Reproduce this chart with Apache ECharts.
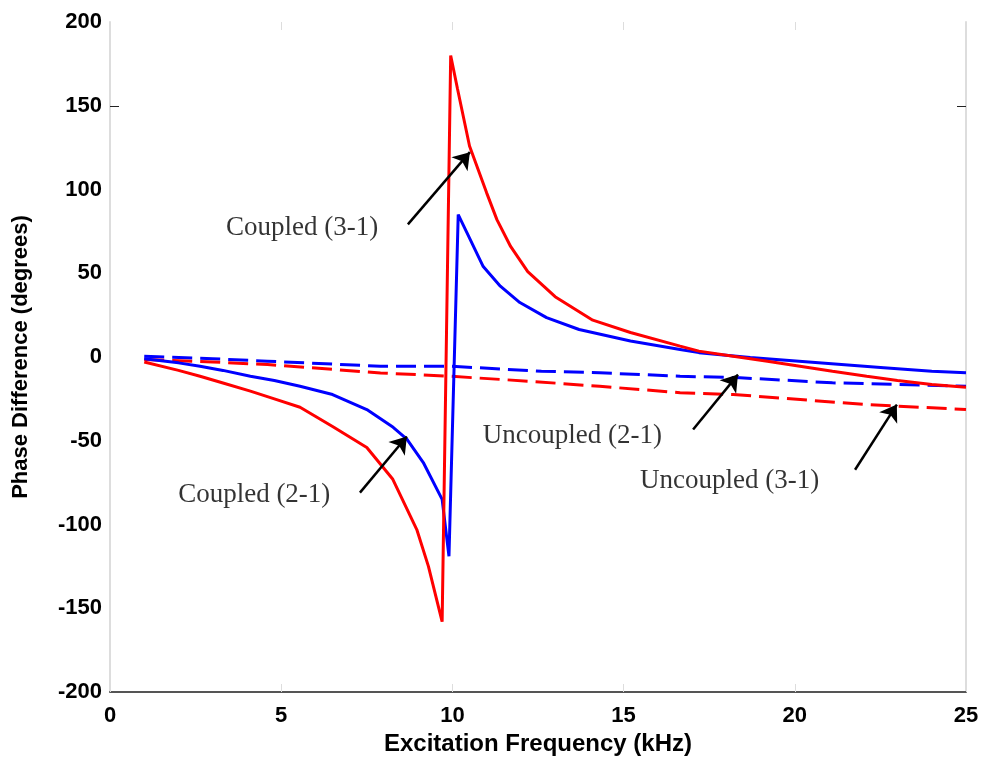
<!DOCTYPE html>
<html>
<head>
<meta charset="utf-8">
<script src="https://cdn.jsdelivr.net/npm/echarts@6/dist/echarts.min.js"></script>
<style>
  html, body { margin: 0; padding: 0; background: #ffffff; }
  #chart { width: 984px; height: 765px; }
</style>
</head>
<body>
<div id="chart"></div>
<script>
// Phase difference between sensor pairs versus excitation frequency

// Coupled (3-1)
const freqCoupled31 = [1, 2, 2.63, 3.3, 4.1, 4.8, 5.55, 6.5, 7.5, 8.26, 8.96, 9.3, 9.7, 9.95, 10.15, 10.5, 11.0, 11.3, 11.7, 12.2, 13.0, 14.1, 15.2, 16.65, 17.2, 18.2, 19.2, 20.15, 21.1, 22.1, 23.0, 24.0, 25.0];
const phaseCoupled31 = [-3, -8, -11.5, -15.5, -20.4, -25, -30, -41.5, -54, -73, -103, -125, -158, 180, 160, 126, 98, 82, 66, 51, 36, 22, 14.6, 6.5, 3.5, 0.5, -2.5, -5.5, -8.5, -11.5, -14, -16.4, -18];

// Coupled (2-1)
const freqCoupled21 = [1, 2, 2.63, 3.3, 4.1, 4.8, 5.55, 6.5, 7.5, 8.27, 8.67, 9.15, 9.7, 9.9, 10.17, 10.42, 10.9, 11.4, 11.97, 12.75, 13.7, 15.2, 16.65, 17.2, 18.7, 20.6, 22.6, 24.0, 25.0];
const phaseCoupled21 = [-1, -3.5, -5.5, -8, -11.5, -14, -17.5, -22.4, -31.4, -42, -49, -63, -85, -119, 85, 74.4, 54, 42.3, 32.5, 23.5, 16.4, 9.5, 4.5, 2.6, -0.3, -3.3, -6.4, -8.5, -9.4];

// Uncoupled (2-1)
const freqUncoupled21 = [1, 3, 4.6, 7.9, 9.93, 12.6, 14.3, 16.65, 18.4, 21.1, 25];
const phaseUncoupled21 = [0.5, -1, -2.5, -5.5, -5.5, -8.5, -9.4, -11.5, -12.4, -15.4, -17.5];

// Uncoupled (3-1)
const freqUncoupled31 = [1, 3, 4.6, 7.9, 9.93, 12.27, 14.3, 16.65, 18.2, 22.1, 25];
const phaseUncoupled31 = [-1.5, -3, -4.5, -9.5, -11.5, -14.5, -17.5, -21.3, -22.4, -28.4, -31.4];

// Axis ticks
const xTicks = [0, 5, 10, 15, 20, 25];
const yTicks = [-200, -150, -100, -50, 0, 50, 100, 150, 200];

// Callout texts: [label, x, y] (left edge of text, vertical middle)
const calloutLabels = ['Coupled (3-1)', 'Coupled (2-1)', 'Uncoupled (2-1)', 'Uncoupled (3-1)'];
const calloutX = [3.39, 1.99, 10.89, 15.48];
const calloutY = [76.8, -82.2, -46.9, -73.8];

// Callout arrows: tail -> head, in data units
const arrowTailX = [8.70, 7.30, 17.03, 21.76];
const arrowTailY = [79.2, -81.0, -43.3, -67.3];
const arrowHeadX = [10.51, 8.67, 18.34, 22.98];
const arrowHeadY = [122.3, -47.5, -10.5, -28.4];

const zip = (xs, ys) => xs.map((x, i) => [x, ys[i]]);

const tickFont = { fontFamily: 'Liberation Sans', fontWeight: 'bold', fontSize: 22, color: '#000' };

const chart = echarts.init(document.getElementById('chart'), null, { renderer: 'canvas' });

const lineSeries = (name, xs, ys, color, dashed) => ({
  name: name,
  type: 'line',
  data: zip(xs, ys),
  showSymbol: false,
  symbol: 'none',
  smooth: false,
  silent: true,
  animation: false,
  lineStyle: { color: color, width: 3, type: dashed ? [20, 8] : 'solid' },
  z: dashed ? 2 : 3
});

chart.setOption({
  backgroundColor: '#ffffff',
  animation: false,
  grid: { left: 110, right: 18, top: 22, bottom: 73, containLabel: false },
  xAxis: [
    {
      type: 'value', min: xTicks[0], max: xTicks[xTicks.length - 1], interval: 5,
      position: 'bottom',
      name: 'Excitation Frequency (kHz)',
      nameLocation: 'middle', nameGap: 36,
      nameTextStyle: { fontFamily: 'Liberation Sans', fontWeight: 'bold', fontSize: 24, color: '#000' },
      axisLine: { show: true, onZero: false, lineStyle: { color: '#555', width: 2 } },
      axisTick: { show: true, inside: true, length: 8, lineStyle: { color: '#dddddd', width: 1 } },
      axisLabel: Object.assign({ margin: 13 }, tickFont),
      splitLine: { show: false }
    },
    {
      type: 'value', min: xTicks[0], max: xTicks[xTicks.length - 1], interval: 5,
      position: 'top',
      axisLine: { show: false, onZero: false },
      axisTick: { show: true, inside: true, length: 8, lineStyle: { color: '#dddddd', width: 1 } },
      axisLabel: { show: false },
      splitLine: { show: false }
    }
  ],
  yAxis: [
    {
      type: 'value', min: yTicks[0], max: yTicks[yTicks.length - 1], interval: 50,
      position: 'left',
      name: 'Phase Difference (degrees)',
      nameLocation: 'middle', nameGap: 78, nameRotate: 90,
      nameTextStyle: { fontFamily: 'Liberation Sans', fontWeight: 'bold', fontSize: 22, color: '#000' },
      axisLine: { show: true, onZero: false, lineStyle: { color: '#dddddd', width: 2 } },
      axisTick: { show: true, inside: true, length: 9, customValues: [150], lineStyle: { color: '#222', width: 1 } },
      axisLabel: Object.assign({ margin: 8 }, tickFont),
      splitLine: { show: false }
    },
    {
      type: 'value', min: yTicks[0], max: yTicks[yTicks.length - 1], interval: 50,
      position: 'right',
      axisLine: { show: true, onZero: false, lineStyle: { color: '#dddddd', width: 2 } },
      axisTick: { show: true, inside: true, length: 9, customValues: [150], lineStyle: { color: '#222', width: 1 } },
      axisLabel: { show: false },
      splitLine: { show: false }
    }
  ],
  series: [
    lineSeries('Uncoupled (2-1)', freqUncoupled21, phaseUncoupled21, '#0000ff', true),
    lineSeries('Uncoupled (3-1)', freqUncoupled31, phaseUncoupled31, '#ff0000', true),
    lineSeries('Coupled (2-1)', freqCoupled21, phaseCoupled21, '#0000ff', false),
    lineSeries('Coupled (3-1)', freqCoupled31, phaseCoupled31, '#ff0000', false),
    {
      name: 'callouts',
      type: 'scatter',
      symbolSize: 0,
      silent: true,
      animation: false,
      z: 5,
      data: calloutLabels.map((t, i) => ({ name: t, value: [calloutX[i], calloutY[i]] })),
      label: {
        show: true,
        position: 'right',
        distance: 0,
        formatter: p => p.name,
        fontFamily: 'Liberation Serif',
        fontSize: 27,
        color: '#000'
      },
      markLine: {
        silent: true,
        animation: false,
        symbol: ['none', 'arrow'],
        symbolSize: 16,
        label: { show: false },
        lineStyle: { color: '#000', width: 2.5, type: 'solid' },
        emphasis: { disabled: true },
        data: arrowTailX.map((x, i) => [
          { coord: [x, arrowTailY[i]] },
          { coord: [arrowHeadX[i], arrowHeadY[i]] }
        ])
      }
    }
  ]
});
</script>
</body>
</html>
